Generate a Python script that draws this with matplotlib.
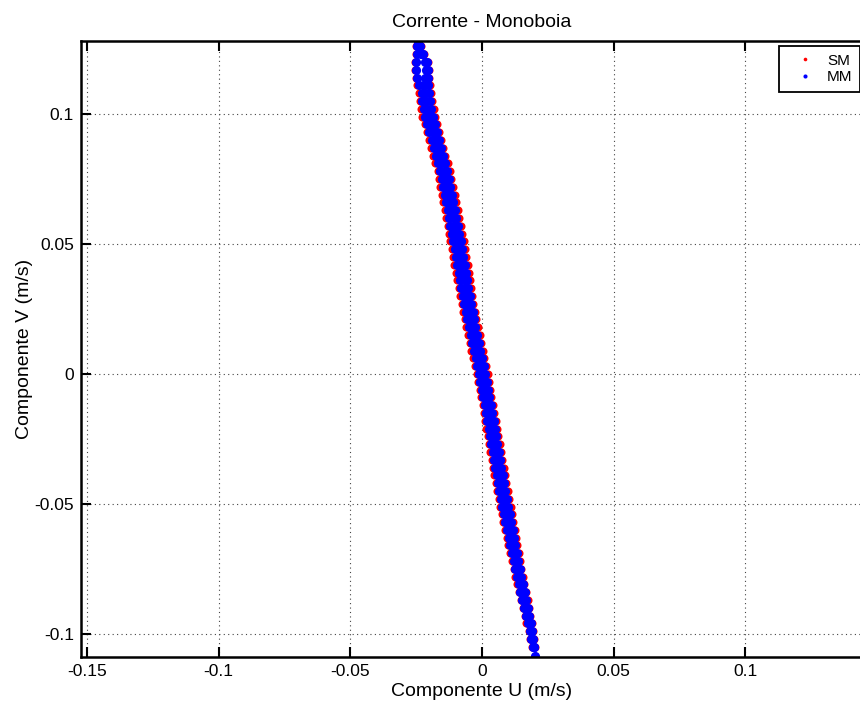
import numpy as np
import matplotlib
matplotlib.use("Agg")
import matplotlib.pyplot as plt

plt.rcParams['font.family'] = ['Liberation Sans', 'DejaVu Sans']

# V levels (m/s) along the scatter band
v_lev = [0.126, 0.123, 0.120, 0.117, 0.114, 0.111, 0.108, 0.105, 0.102, 0.099,
         0.096, 0.093, 0.090, 0.087, 0.084, 0.081, 0.078, 0.075, 0.072, 0.069,
         0.066, 0.063, 0.060, 0.057, 0.054, 0.051, 0.048, 0.045, 0.042, 0.039,
         0.036, 0.033, 0.030, 0.027, 0.024, 0.021, 0.018, 0.015, 0.012, 0.009,
         0.006, 0.003, 0.000, -0.003, -0.006, -0.009, -0.012, -0.015, -0.018, -0.021,
         -0.024, -0.027, -0.030, -0.033, -0.036, -0.039, -0.042, -0.045, -0.048, -0.051,
         -0.054, -0.057, -0.060, -0.063, -0.066, -0.069, -0.072, -0.075, -0.078, -0.081,
         -0.084, -0.087, -0.090, -0.093, -0.096, -0.099, -0.102, -0.105]

# MM (blue) U values: left edge, middle, right edge of the band
mm_left = [-0.0246, -0.0248, -0.0251, -0.0249, -0.0245, -0.0240, -0.0229, -0.0227, -0.0222, -0.0216,
           -0.0208, -0.0200, -0.0191, -0.0183, -0.0175, -0.0167, -0.0159, -0.0153, -0.0148, -0.0142,
           -0.0137, -0.0131, -0.0125, -0.0120, -0.0114, -0.0109, -0.0104, -0.0099, -0.0094, -0.0089,
           -0.0084, -0.0078, -0.0073, -0.0068, -0.0062, -0.0056, -0.0049, -0.0043, -0.0037, -0.0031,
           -0.0024, -0.0018, -0.0011, -0.0006, -0.0001, 0.0004, 0.0010, 0.0015, 0.0020, 0.0025,
           0.0030, 0.0036, 0.0041, 0.0046, 0.0051, 0.0056, 0.0061, 0.0066, 0.0072, 0.0077,
           0.0083, 0.0089, 0.0096, 0.0102, 0.0107, 0.0113, 0.0120, 0.0126, 0.0133, 0.0139,
           0.0146, 0.0153, 0.0160, 0.0167, 0.0174, 0.0181, 0.0187, 0.0193]
mm_mid = [-0.0241, -0.0232, -0.0215, -0.0213, -0.0215, -0.0222, -0.0216, -0.0213, -0.0208, -0.0202,
          -0.0194, -0.0186, -0.0178, -0.0170, -0.0162, -0.0154, -0.0146, -0.0140, -0.0134, -0.0128,
          -0.0123, -0.0117, -0.0111, -0.0106, -0.0100, -0.0095, -0.0090, -0.0085, -0.0080, -0.0075,
          -0.0070, -0.0065, -0.0060, -0.0055, -0.0049, -0.0043, -0.0037, -0.0031, -0.0025, -0.0019,
          -0.0012, -0.0006, 0.0001, 0.0006, 0.0011, 0.0016, 0.0022, 0.0027, 0.0032, 0.0037,
          0.0042, 0.0047, 0.0052, 0.0057, 0.0062, 0.0067, 0.0072, 0.0077, 0.0083, 0.0088,
          0.0094, 0.0100, 0.0106, 0.0112, 0.0117, 0.0123, 0.0129, 0.0135, 0.0141, 0.0147,
          0.0154, 0.0160, 0.0167, 0.0173, 0.0180, 0.0186, 0.0191, 0.0196]
mm_right = [-0.0236, -0.0224, -0.0208, -0.0205, -0.0204, -0.0204, -0.0203, -0.0199, -0.0194, -0.0188,
            -0.0180, -0.0172, -0.0165, -0.0157, -0.0149, -0.0141, -0.0133, -0.0127, -0.0120, -0.0114,
            -0.0109, -0.0103, -0.0097, -0.0092, -0.0086, -0.0081, -0.0076, -0.0071, -0.0066, -0.0061,
            -0.0056, -0.0052, -0.0047, -0.0042, -0.0036, -0.0030, -0.0025, -0.0019, -0.0013, -0.0007,
            0.0000, 0.0006, 0.0013, 0.0018, 0.0023, 0.0028, 0.0034, 0.0039, 0.0044, 0.0049,
            0.0054, 0.0058, 0.0063, 0.0068, 0.0073, 0.0078, 0.0083, 0.0088, 0.0094, 0.0099,
            0.0105, 0.0111, 0.0116, 0.0122, 0.0127, 0.0133, 0.0138, 0.0144, 0.0149, 0.0155,
            0.0162, 0.0167, 0.0174, 0.0179, 0.0186, 0.0191, 0.0195, 0.0199]

# SM (red) U values at the outer edges of the band
sm_left = [-0.0250, -0.0252, -0.0256, -0.0254, -0.0251, -0.0248, -0.0239, -0.0237, -0.0232, -0.0226,
           -0.0218, -0.0210, -0.0201, -0.0193, -0.0187, -0.0177, -0.0169, -0.0163, -0.0158, -0.0152,
           -0.0147, -0.0142, -0.0136, -0.0131, -0.0125, -0.0120, -0.0115, -0.0110, -0.0105, -0.0099,
           -0.0094, -0.0088, -0.0083, -0.0077, -0.0071, -0.0065, -0.0059, -0.0053, -0.0046, -0.0040,
           -0.0033, -0.0026, -0.0019, -0.0014, -0.0009, -0.0004, 0.0002, 0.0007, 0.0012, 0.0017,
           0.0022, 0.0027, 0.0032, 0.0037, 0.0042, 0.0047, 0.0052, 0.0057, 0.0063, 0.0068,
           0.0075, 0.0081, 0.0088, 0.0094, 0.0100, 0.0106, 0.0113, 0.0120, 0.0126, 0.0133,
           0.0141, 0.0147, 0.0155, 0.0162, 0.0169, 0.0177, 0.0183, 0.0191]
sm_right = [-0.0232, -0.0222, -0.0206, -0.0203, -0.0201, -0.0198, -0.0193, -0.0189, -0.0184, -0.0178,
            -0.0170, -0.0162, -0.0155, -0.0147, -0.0139, -0.0131, -0.0123, -0.0117, -0.0110, -0.0104,
            -0.0099, -0.0092, -0.0086, -0.0081, -0.0075, -0.0070, -0.0065, -0.0060, -0.0055, -0.0051,
            -0.0046, -0.0042, -0.0037, -0.0033, -0.0027, -0.0021, -0.0015, -0.0009, -0.0004, 0.0002,
            0.0009, 0.0014, 0.0021, 0.0026, 0.0031, 0.0036, 0.0042, 0.0047, 0.0052, 0.0057,
            0.0062, 0.0067, 0.0072, 0.0077, 0.0082, 0.0087, 0.0092, 0.0097, 0.0103, 0.0110,
            0.0113, 0.0119, 0.0124, 0.0130, 0.0134, 0.0140, 0.0145, 0.0150, 0.0156, 0.0161,
            0.0167, 0.0173, 0.0179, 0.0184, 0.0191, 0.0195, 0.0199, 0.0201]

# band ends
end_u = [-0.0244, 0.0200]
end_v = [0.1275, -0.1085]

x_ticks = [-0.15, -0.1, -0.05, 0, 0.05, 0.1]
x_labels = ['-0.15', '-0.1', '-0.05', '0', '0.05', '0.1']
y_ticks = [-0.1, -0.05, 0, 0.05, 0.1]
y_labels = ['-0.1', '-0.05', '0', '0.05', '0.1']

mm_u = mm_left + mm_mid + mm_right + end_u
mm_v = v_lev * 3 + end_v
sm_u = sm_left + sm_right + end_u
sm_v = v_lev * 2 + end_v

fig = plt.figure(figsize=(8.6, 7.02), dpi=100)
ax = fig.add_axes([81 / 860, 45 / 702, 802 / 860, 616 / 702])

sm_line, = ax.plot(sm_u, sm_v, linestyle='none', marker='o', ms=5.8, mew=0, color='red', label='SM')
mm_line, = ax.plot(mm_u, mm_v, linestyle='none', marker='o', ms=6.6, mew=0, color='blue', label='MM')

ax.set_xlim(-0.1523, 0.1523)
ax.set_ylim(-0.1089, 0.1281)
ax.set_xticks(x_ticks)
ax.set_xticklabels(x_labels)
ax.set_yticks(y_ticks)
ax.set_yticklabels(y_labels)
ax.tick_params(direction='in', top=True, right=True, length=7, width=1.5, labelsize=12.5, pad=5)
for s in ax.spines.values():
    s.set_linewidth(1.8)
ax.grid(True, linestyle=(0, (1, 3)), color='#444444', linewidth=0.8)

ax.set_title('Corrente - Monoboia', fontsize=14, pad=10)
ax.set_xlabel('Componente U (m/s)', fontsize=14, labelpad=3)
ax.set_ylabel('Componente V (m/s)', fontsize=14, labelpad=1)

leg = ax.legend(handles=[sm_line, mm_line], loc='upper left',
                bbox_to_anchor=(779 / 860, 1 - 46 / 702), bbox_transform=fig.transFigure,
                borderaxespad=0, fontsize=11, fancybox=False, framealpha=1, edgecolor='black',
                handlelength=2.4, handletextpad=0.24, borderpad=0.5, labelspacing=0.16,
                markerscale=0.45)
leg.get_frame().set_linewidth(1.3)

fig.savefig('out.png', dpi=100)
